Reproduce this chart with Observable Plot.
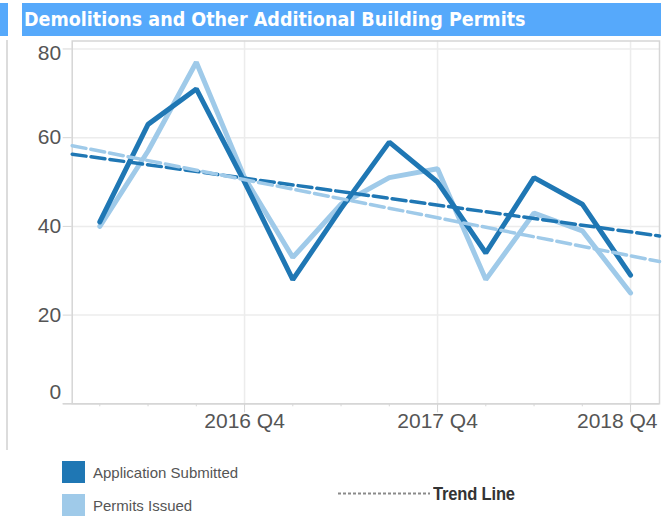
<!DOCTYPE html>
<html><head><meta charset="utf-8">
<script src="https://cdn.jsdelivr.net/npm/d3@7"></script>
<script src="https://cdn.jsdelivr.net/npm/@observablehq/plot@0.6"></script>
<style>
body{margin:0;background:#fff;width:668px;height:522px;overflow:hidden;position:relative;font-family:"Liberation Sans",Arial,sans-serif;}
#stub{position:absolute;left:0;top:3px;width:8px;height:33px;background:#56a9fb;}
#side{position:absolute;left:6px;top:40px;width:2px;height:410px;background:#dcdcdc;}
#title{position:absolute;left:22px;top:3px;width:639px;height:33px;background:#56a9fb;color:#fff;font-family:"DejaVu Sans Condensed";font-weight:bold;font-size:19.5px;line-height:33px;padding-left:2px;box-sizing:border-box;white-space:nowrap;}
#chart{position:absolute;left:0;top:0;}
.sw{position:absolute;left:62px;width:23px;height:22px;}
.lt{position:absolute;left:93px;font-size:15px;color:#555;line-height:18px;white-space:nowrap;}
#trend{position:absolute;left:336px;top:482px;height:24px;white-space:nowrap;}
#trend span{position:absolute;left:97px;top:0;font-family:"Liberation Sans",Arial,sans-serif;font-weight:bold;font-size:19px;line-height:24px;color:#333;transform:scaleX(0.87);transform-origin:left center;letter-spacing:-0.2px;}
</style></head>
<body>
<div id="stub"></div>
<div id="side"></div>
<div id="title"></div>
<div id="chart"></div>
<div id="legend"></div>
<script>
const titleText = "Demolitions and Other Additional Building Permits";
const quarters = ["2016 Q1","2016 Q2","2016 Q3","2016 Q4","2017 Q1","2017 Q2","2017 Q3","2017 Q4","2018 Q1","2018 Q2","2018 Q3","2018 Q4"];
const applications = [41,63,71,50,28,44,59,50,34,51,45,29];
const permits = [40,57,77,51,33,45,51,53,28,43,39,25];
const seriesNames = ["Application Submitted","Permits Issued"];
const seriesColors = ["#1f77b4","#9fcae9"];
const yTicks = [0,20,40,60,80];
const labelQuarters = ["2016 Q4","2017 Q4","2018 Q4"];
const trendLabel = "Trend Line";

document.getElementById("title").textContent = titleText;

const xDomain = [-0.572, 11.6];
const allIdx = quarters.map((q,i)=>i);
const majorIdx = labelQuarters.map(q=>quarters.indexOf(q));

const seriesVals = [applications, permits];
const rows = seriesNames.flatMap((s,k)=>seriesVals[k].map((v,i)=>({i, series:s, value:v})));

function trend(vals, s){
  const mx = d3.mean(vals,(d,i)=>i), my = d3.mean(vals);
  let sxy=0, sxx=0;
  vals.forEach((v,i)=>{sxy+=(i-mx)*(v-my); sxx+=(i-mx)*(i-mx);});
  const b = sxy/sxx, a = my - b*mx;
  return xDomain.map(x=>({i:x, series:s, value:a+b*x}));
}
const trends = seriesNames.flatMap((s,k)=>trend(seriesVals[k], s));

const grid = "#ececec", axisC = "#d6d6d6", txt = "#555";
const color = {domain: seriesNames, range: seriesColors};

const plot = Plot.plot({
  width: 668, height: 450,
  marginLeft: 71.7, marginRight: 9, marginTop: 40.5, marginBottom: 46.7,
  style: {fontFamily: "Liberation Sans, Arial, sans-serif", fontSize: "21px", color: txt, background: "transparent", overflow: "visible"},
  x: {domain: xDomain, axis: null},
  y: {domain: [0, 81.8], axis: null},
  color,
  marks: [
    Plot.gridY(yTicks.filter(d=>d>0), {stroke: grid, strokeOpacity: 1, strokeWidth: 1.5}),
    Plot.gridX(majorIdx, {stroke: grid, strokeOpacity: 1, strokeWidth: 1.5}),
    Plot.frame({stroke: axisC, strokeWidth: 1.5}),
    Plot.ruleY([0], {stroke: axisC, strokeWidth: 1.5, insetLeft: -9}),
    Plot.axisY(yTicks, {tickSize: 9, tickFormat: ()=>"", stroke: axisC, label: null}),
    Plot.axisX(allIdx, {tickSize: 3, tickFormat: ()=>"", stroke: axisC, label: null}),
    Plot.axisX(majorIdx, {tickSize: 9, tickFormat: ()=>"", stroke: axisC, label: null}),
    Plot.text(yTicks.filter(d=>d>0 && d<80), {y: d=>d, text: d=>String(d), frameAnchor: "left", textAnchor: "end", dx: -11, fill: txt}),
    Plot.text([80], {y: d=>d, text: d=>String(d), frameAnchor: "left", textAnchor: "end", dx: -11, dy: 4, fill: txt}),
    Plot.text([0], {y: d=>d, text: d=>String(d), frameAnchor: "left", textAnchor: "end", dx: -11, dy: -12, fill: txt}),
    Plot.text(majorIdx.slice(0,-1), {x: d=>d, text: d=>quarters[d], frameAnchor: "bottom", dy: 24, fill: txt}),
    Plot.text(majorIdx.slice(-1), {x: d=>d, text: d=>quarters[d], frameAnchor: "bottom", dy: 24, textAnchor: "end", dx: 27, fill: txt}),
    Plot.line(rows.filter(d=>d.series===seriesNames[1]), {x: "i", y: "value", stroke: "series", strokeWidth: 5, strokeLinejoin: "miter", strokeLinecap: "round"}),
    Plot.line(rows.filter(d=>d.series===seriesNames[0]), {x: "i", y: "value", stroke: "series", strokeWidth: 5, strokeLinejoin: "miter", strokeLinecap: "round"}),
    Plot.line(trends, {x: "i", y: "value", z: "series", stroke: "series", strokeWidth: 3.5, strokeDasharray: "14,5"})
  ]
});
document.getElementById("chart").appendChild(plot);

const leg = document.getElementById("legend");
seriesNames.forEach((s,k)=>{
  const sw = document.createElement("div"); sw.className="sw";
  sw.style.top = (461 + k*33) + "px"; sw.style.background = seriesColors[k];
  leg.appendChild(sw);
  const t = document.createElement("div"); t.className="lt";
  t.style.top = (464 + k*33) + "px"; t.textContent = s;
  leg.appendChild(t);
});
const tr = document.createElement("div"); tr.id="trend";
tr.innerHTML = '<svg width="96" height="24" style="position:absolute;left:0;top:0"><line x1="2" y1="11.5" x2="94" y2="11.5" stroke="#8a8a8a" stroke-width="2" stroke-dasharray="3,2"/></svg>';
const sp = document.createElement("span"); sp.textContent = trendLabel; tr.appendChild(sp);
leg.appendChild(tr);
</script>
</body></html>
